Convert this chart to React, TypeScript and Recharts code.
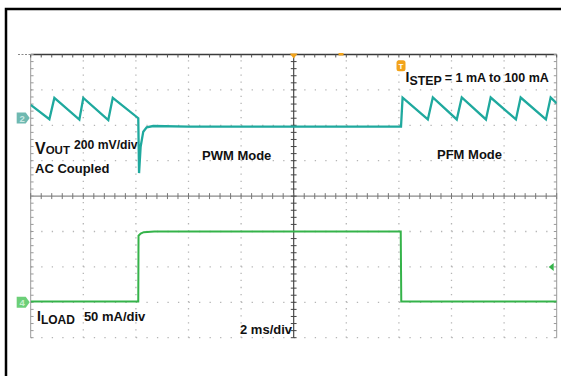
import React from "react";
import { LineChart, Line, XAxis, YAxis, ReferenceLine, ReferenceDot } from "recharts";

// Time axis: ms (2 ms/div, 10 divisions)
// VOUT trace (channel 2), mV relative to the channel reference line, AC coupled
const voutTime = [0, 0.71, 0.9, 1.85, 2.0, 2.95, 3.12, 4.09, 4.12, 4.18, 4.28, 4.41, 4.66, 6, 8, 10, 12, 14.08, 14.14, 15.1, 15.29, 16.2, 16.39, 17.31, 17.49, 18.45, 18.63, 19.59, 19.77, 20];
const voutMv = [115, 34, 155, 32, 155, 30, 155, 40, -270, -121, -36, -11, -4, -7, -8, -8, -8, -8, 156, 33, 157, 33, 157, 33, 157, 33, 157, 33, 157, 124];

// ILOAD trace (channel 4), mA
const iloadTime = [0, 4.09, 4.1, 4.18, 4.3, 4.7, 10, 14.07, 14.09, 14.4, 20];
const iloadMa = [1, 1, 94, 97, 99, 100, 100, 100, 1, 1, 1];

// Graticule settings (scope screen: 10 x 8 divisions)
const timeDivs = [0, 2, 4, 6, 8, 10, 12, 14, 16, 18, 20];
const currentDivs = [-50, 0, 50, 100, 150, 200, 250, 300, 350];

const voutData = voutTime.map((t, k) => ({ t, v: voutMv[k] }));
const iloadData = iloadTime.map((t, k) => ({ t, i: iloadMa[k] }));

const minorT: number[] = [];
for (let k = 0; k <= 50; k++) minorT.push(+(k * 0.4).toFixed(2));
const minorI: number[] = [];
for (let k = 0; k <= 40; k++) minorI.push(-50 + k * 10);

const W = 561;
const H = 376;
const FONT = "'Liberation Sans', Arial, Helvetica, sans-serif";
const TEAL = "#1fa99e";
const GREEN = "#35b34a";
const ORANGE = "#f2a31b";
const DOT = "#b5b5b5";

export default function App() {
  const tickV = 4.2; // mA, ~3px
  const tickH = 0.11; // ms, ~3px
  return (
    <div style={{ position: "absolute", left: 0, top: 0, width: W, height: H, background: "#fff" }}>
      <LineChart
        width={W}
        height={H}
        margin={{ top: 54.5, right: 4.3, bottom: 38.3, left: 30.7 }}
      >
        <XAxis type="number" dataKey="t" domain={[0, 20]} hide allowDataOverflow />
        <YAxis yAxisId="v" type="number" domain={[-1200, 400]} hide allowDataOverflow />
        <YAxis yAxisId="i" type="number" domain={[-50, 350]} hide allowDataOverflow />

        {/* dotted graticule */}
        {timeDivs.filter((t) => t !== 0 && t !== 10 && t !== 20).map((t) => (
          <ReferenceLine key={"vx" + t} x={t} yAxisId="i" stroke={DOT} strokeWidth={1.3} strokeDasharray="1.3 5.78" />
        ))}
        {currentDivs.filter((c) => c !== 150 && c !== 350).map((c) => (
          <ReferenceLine key={"hy" + c} y={c} yAxisId="i" stroke={DOT} strokeWidth={1.3} strokeDasharray="1.3 9.22" />
        ))}

        {/* borders and center cross */}
        <ReferenceLine x={0} yAxisId="i" stroke="#9a9a9a" strokeWidth={1} />
        <ReferenceLine x={20} yAxisId="i" stroke="#9a9a9a" strokeWidth={1} />
        <ReferenceLine y={350} yAxisId="i" stroke="#3a3a3a" strokeWidth={1.4} />
        <ReferenceLine y={150} yAxisId="i" stroke="#8a8a8a" strokeWidth={1.4} />
        <ReferenceLine x={10} yAxisId="i" stroke="#3a3a3a" strokeWidth={1.1} />

        {/* minor ticks */}
        {minorT.map((t) => (
          <ReferenceLine key={"tt" + t} yAxisId="i" stroke="#555" strokeWidth={1}
            segment={[{ x: t, y: 350 }, { x: t, y: 350 - tickV }]} ifOverflow="visible" />
        ))}
        {minorT.map((t) => (
          <ReferenceLine key={"ct" + t} yAxisId="i" stroke="#777" strokeWidth={1}
            segment={[{ x: t, y: 150 + tickV }, { x: t, y: 150 - tickV }]} ifOverflow="visible" />
        ))}
        {minorI.map((c) => (
          <ReferenceLine key={"cv" + c} yAxisId="i" stroke="#444" strokeWidth={1}
            segment={[{ x: 10 - tickH, y: c }, { x: 10 + tickH, y: c }]} ifOverflow="visible" />
        ))}
        {minorI.map((c) => (
          <ReferenceLine key={"lv" + c} yAxisId="i" stroke="#999" strokeWidth={1}
            segment={[{ x: 0, y: c }, { x: tickH, y: c }]} ifOverflow="visible" />
        ))}
        {minorI.map((c) => (
          <ReferenceLine key={"rv" + c} yAxisId="i" stroke="#999" strokeWidth={1}
            segment={[{ x: 20 - tickH, y: c }, { x: 20, y: c }]} ifOverflow="visible" />
        ))}

        <Line data={iloadData} dataKey="i" yAxisId="i" type="linear" stroke={GREEN} strokeWidth={2} dot={false} isAnimationActive={false} />
        <Line data={voutData} dataKey="v" yAxisId="v" type="linear" stroke={TEAL} strokeWidth={2.3} dot={false} isAnimationActive={false} />

        {/* trigger level arrow at right */}
        <ReferenceDot x={20} y={50} yAxisId="i" ifOverflow="visible"
          shape={(p: any) => (
            <path d={`M ${p.cx - 8} ${p.cy} L ${p.cx - 3} ${p.cy - 4} L ${p.cx - 3} ${p.cy + 4} Z`} fill={GREEN} />
          )} />
        {/* trigger position marker at top */}
        <ReferenceDot x={10} y={350} yAxisId="i" ifOverflow="visible"
          shape={(p: any) => (
            <path d={`M ${p.cx - 4} ${p.cy - 1} L ${p.cx + 4} ${p.cy - 1} L ${p.cx} ${p.cy + 4} Z`} fill={ORANGE} />
          )} />
        <ReferenceDot x={11.8} y={350} yAxisId="i" ifOverflow="visible"
          shape={(p: any) => (
            <rect x={p.cx - 2.5} y={p.cy - 1.5} width={5} height={2.5} fill={ORANGE} />
          )} />
        {/* T marker at the step */}
        <ReferenceDot x={14.08} y={334} yAxisId="i" ifOverflow="visible"
          shape={(p: any) => (
            <g>
              <rect x={p.cx - 4.5} y={p.cy - 5.5} width={9} height={11} rx={2.5} fill={ORANGE} />
              <text x={p.cx} y={p.cy + 3} textAnchor="middle" fontSize={8} fontWeight="bold" fill="#fff" fontFamily={FONT}>T</text>
            </g>
          )} />
        {/* channel ground markers */}
        <ReferenceDot x={0} y={41} yAxisId="v" ifOverflow="visible"
          shape={(p: any) => (
            <g>
              <path d={`M ${p.cx - 14} ${p.cy - 5.5} L ${p.cx - 5} ${p.cy - 5.5} L ${p.cx - 1} ${p.cy} L ${p.cx - 5} ${p.cy + 5.5} L ${p.cx - 14} ${p.cy + 5.5} Z`} fill="#6fb9b1" />
              <text x={p.cx - 8.5} y={p.cy + 3.5} textAnchor="middle" fontSize={9.5} fontWeight="bold" fill="#c9e8e4" fontFamily={FONT}>2</text>
            </g>
          )} />
        <ReferenceDot x={0} y={0} yAxisId="i" ifOverflow="visible"
          shape={(p: any) => (
            <g>
              <path d={`M ${p.cx - 14} ${p.cy - 5.5} L ${p.cx - 5} ${p.cy - 5.5} L ${p.cx - 1} ${p.cy} L ${p.cx - 5} ${p.cy + 5.5} L ${p.cx - 14} ${p.cy + 5.5} Z`} fill="#6ccf78" />
              <text x={p.cx - 8.5} y={p.cy + 3.5} textAnchor="middle" fontSize={9.5} fontWeight="bold" fill="#caf0cf" fontFamily={FONT}>4</text>
            </g>
          )} />
      </LineChart>

      <svg width={W} height={H} style={{ position: "absolute", left: 0, top: 0, pointerEvents: "none" }}>
        <rect x={6} y={9} width={700} height={500} fill="none" stroke="#000" strokeWidth={2.5} />
        <line x1={18} y1={54.5} x2={30} y2={54.5} stroke="#888" strokeWidth={1} strokeDasharray="2 1.5" />
        <g fontFamily={FONT} fontWeight="bold" fill="#111">
          <text x={35} y={153.5} fontSize={16}>V<tspan fontSize={11.5}>OUT</tspan><tspan fontSize={12.2} dy={-4.5} dx={4}>200 mV/div</tspan></text>
          <text x={35} y={172.5} fontSize={13}>AC Coupled</text>
          <text x={202} y={160} fontSize={13}>PWM Mode</text>
          <text x={437} y={159} fontSize={13}>PFM Mode</text>
          <text x={405.5} y={81.7} fontSize={14}>I<tspan fontSize={12.4} dy={3.3}>STEP</tspan><tspan fontSize={12.5} dy={-3.3} dx={3}>= 1 mA to 100 mA</tspan></text>
          <text x={37} y={321} fontSize={14}>I<tspan fontSize={12} dy={3}>LOAD</tspan><tspan fontSize={13} dy={-3} dx={9}>50 mA/div</tspan></text>
          <text x={240} y={334} fontSize={13}>2 ms/div</text>
        </g>
      </svg>
    </div>
  );
}
